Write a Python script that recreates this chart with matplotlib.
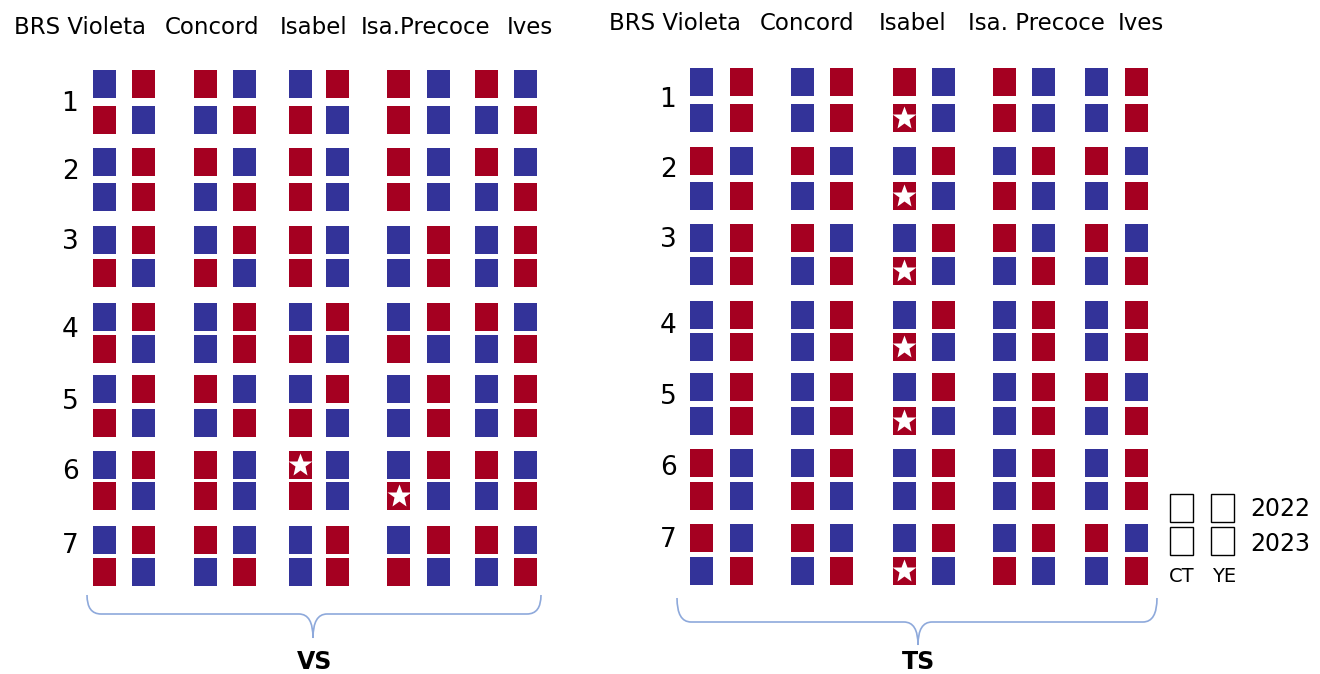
import matplotlib.pyplot as plt
from matplotlib.patches import Rectangle, PathPatch
from matplotlib.path import Path

# --- Данные ---
CULTIVARS_VS = ['BRS Violeta', 'Concord', 'Isabel', 'Isa.Precoce', 'Ives']
CULTIVARS_TS = ['BRS Violeta', 'Concord', 'Isabel', 'Isa. Precoce', 'Ives']
ROWS = ['1', '2', '3', '4', '5', '6', '7']
YEARS = ['2022', '2023']
TREATMENTS = ['CT', 'YE']

# B = синий, R = красный; 14 строк (7 блоков x 2 года), 10 столбцов
VS_GRID = [
    'BR RB BR RB RB',
    'RB BR RB RB BR',
    'BR RB RB RB RB',
    'BR BR RB RB BR',
    'BR BR RB BR BR',
    'RB RB RB BR BR',
    'BR BR BR BR RB',
    'RB BR RB RB BR',
    'BR RB BR BR BR',
    'RB BR RB BR BR',
    'BR RB RB BR RB',
    'RB RB RB RB BR',
    'BR RB BR BR RB',
    'RB BR BR RB BR',
]
TS_GRID = [
    'BR BR RB RB BR',
    'BR BR RB RB BR',
    'RB RB BR BR RB',
    'BR BR RB RB BR',
    'BR RB BR RB RB',
    'BR BR RB BR BR',
    'BR BR BR BR BR',
    'BR BR RB BR BR',
    'BR BR BR BR RB',
    'BR BR RB BR BR',
    'RB BR BR BR BR',
    'RB RB BR BR BR',
    'RB RB BR BR RB',
    'BR BR RB RB BR',
]
# звёздочки: (строка, столбец)
VS_STARS = [(10, 4), (11, 6)]
TS_STARS = [(1, 4), (3, 4), (5, 4), (7, 4), (9, 4), (13, 4)]

# --- Оформление ---
RED = '#A50021'
BLUE = '#333399'
BRACE = '#8EA9DB'
SQ_W, SQ_H = 23, 28

PANELS = {
    'VS': dict(
        grid=VS_GRID, stars=VS_STARS, names=CULTIVARS_VS,
        cols=[104, 143.5, 205, 244, 300, 337, 398.5, 438, 486, 525],
        top=[84, 162, 240, 316.5, 389, 465, 540],
        bot=[120, 197, 273, 349, 423, 496, 572],
        head_x=[80, 212, 314, 426, 530], head_y=27,
        lab_x=70, lab_y=[104, 172, 242, 330, 402, 472, 546],
        brace=(87, 541, 595, 614, 313, 638), title_x=315,
    ),
    'TS': dict(
        grid=TS_GRID, stars=TS_STARS, names=CULTIVARS_TS,
        cols=[701, 741, 802, 841, 904, 943, 1004, 1043, 1096, 1136],
        top=[82, 161, 238, 315, 387, 463, 538],
        bot=[118, 196, 271, 347, 421, 496, 571],
        head_x=[675, 807, 913, 1036, 1141], head_y=23,
        lab_x=668, lab_y=[100, 170, 240, 326, 397, 468, 540],
        brace=(677, 1157, 598, 622, 918, 645), title_x=918,
    ),
}


def draw_brace(ax, x0, x1, ytop, ymid, xc, ytip):
    r = 14
    verts = [
        (x0, ytop), (x0, ymid), (x0 + r, ymid),
        (xc - r, ymid), (xc, ymid), (xc, ytip),
        (xc, ymid), (xc + r, ymid),
        (x1 - r, ymid), (x1, ymid), (x1, ytop),
    ]
    codes = [Path.MOVETO, Path.CURVE3, Path.CURVE3,
             Path.LINETO, Path.CURVE3, Path.CURVE3,
             Path.CURVE3, Path.CURVE3,
             Path.LINETO, Path.CURVE3, Path.CURVE3]
    ax.add_patch(PathPatch(Path(verts, codes), fill=False, edgecolor=BRACE, lw=1.2))


def create_plot():
    fig = plt.figure(figsize=(13.2, 6.74), dpi=100)
    ax = fig.add_axes([0, 0, 1, 1])
    ax.set_xlim(0, 1320)
    ax.set_ylim(674, 0)
    ax.axis('off')

    for title, p in PANELS.items():
        ys = []
        for t, b in zip(p['top'], p['bot']):
            ys += [t, b]
        for i, row in enumerate(p['grid']):
            cells = row.replace(' ', '')
            for j, c in enumerate(cells):
                color = RED if c == 'R' else BLUE
                ax.add_patch(Rectangle((p['cols'][j] - SQ_W / 2, ys[i] - SQ_H / 2), SQ_W, SQ_H,
                                       facecolor=color, edgecolor='none'))
        for i, j in p['stars']:
            ax.plot(p['cols'][j], ys[i], marker='*', color='white', markersize=18, mec='none')

        for name, x in zip(p['names'], p['head_x']):
            ax.text(x, p['head_y'], name, ha='center', va='center', fontsize=16.5)
        for lab, y in zip(ROWS, p['lab_y']):
            ax.text(p['lab_x'], y, lab, ha='center', va='center', fontsize=19)

        draw_brace(ax, *p['brace'])
        ax.text(p['title_x'], 662, title, ha='center', va='center', fontsize=17, fontweight='bold')

    # легенда
    for ci, x in enumerate([1181.5, 1222]):
        for ri, y in enumerate([508, 541]):
            ax.add_patch(Rectangle((x - 11.5, y - 14), 23, 28, fill=False, edgecolor='black', lw=1))
    for year, y in zip(YEARS, [509, 544]):
        ax.text(1250, y, year, ha='left', va='center', fontsize=17)
    for tr, x in zip(TREATMENTS, [1181.5, 1224]):
        ax.text(x, 577, tr, ha='center', va='center', fontsize=14)

    fig.savefig('out.png', dpi=100)


if __name__ == '__main__':
    create_plot()
